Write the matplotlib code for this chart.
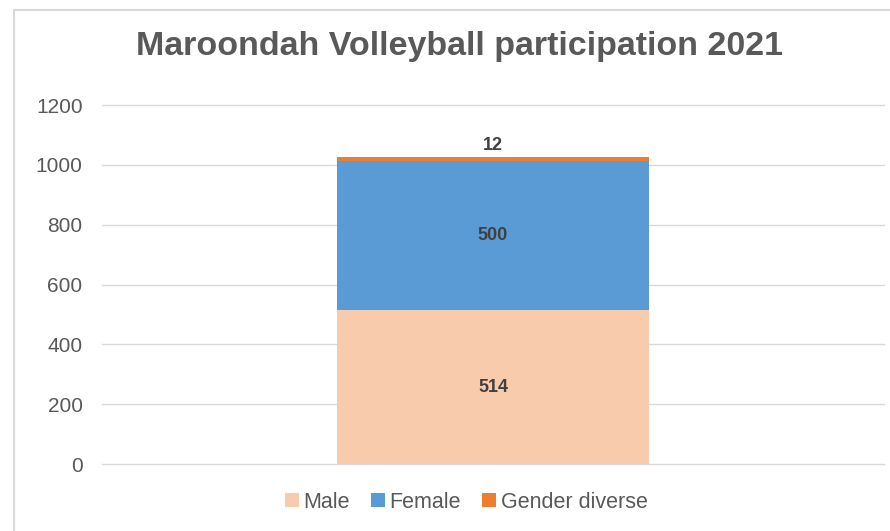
import matplotlib.pyplot as plt
from matplotlib.lines import Line2D

plt.rcParams['font.family'] = ['Liberation Sans', 'DejaVu Sans']

category = ["2021"]
series_names = ["Male", "Female", "Gender diverse"]
male = [514]
female = [500]
gender_diverse = [12]
colors = ["#F8CBAD", "#5B9BD5", "#ED7D31"]

fig = plt.figure(figsize=(8.9, 5.31), dpi=100)
ax = fig.add_axes([102 / 890, 1 - 464 / 531, 782 / 890, 359 / 531])

x = [0]
b1 = ax.bar(x, male, width=0.4, color=colors[0], label=series_names[0], zorder=3)
b2 = ax.bar(x, female, width=0.4, bottom=male, color=colors[1], label=series_names[1], zorder=3)
bottom3 = [m + f for m, f in zip(male, female)]
b3 = ax.bar(x, gender_diverse, width=0.4, bottom=bottom3, color=colors[2], label=series_names[2], zorder=3)

ax.bar_label(b1, label_type="center", fontsize=13, fontweight="bold", color="#404040")
ax.bar_label(b2, label_type="center", fontsize=13, fontweight="bold", color="#404040")
ax.bar_label(b3, labels=[str(v) for v in gender_diverse], padding=2,
             fontsize=13, fontweight="bold", color="#404040")

ax.set_xlim(-0.5, 0.5)
ax.set_ylim(0, 1200)
ax.set_yticks(range(0, 1201, 200))
ax.set_xticks([])
for yv in range(0, 1201, 200):
    ax.axhline(yv, color="#D9D9D9", linewidth=1, zorder=0, clip_on=False)
for s in ax.spines.values():
    s.set_visible(False)
ax.tick_params(axis="y", length=0, pad=14, labelsize=15, labelcolor="#595959")

fig.text(460 / 890, 1 - 47 / 531, "Maroondah Volleyball participation 2021",
         ha="center", va="center", fontsize=24.5, fontweight="bold", color="#595959")

fig.legend(handles=[b1, b2, b3], labels=series_names, loc="center",
           bbox_to_anchor=(466 / 890, 1 - 502 / 531), ncol=3, frameon=False,
           fontsize=15.5, labelcolor="#595959", handlelength=0.65, handleheight=0.65,
           handletextpad=0.2, columnspacing=1.0)

# chart border (top and left edges visible)
fig.add_artist(Line2D([14 / 890, 1], [1 - 9.5 / 531, 1 - 9.5 / 531], color="#D9D9D9", linewidth=1.5))
fig.add_artist(Line2D([14 / 890, 14 / 890], [0, 1 - 9.5 / 531], color="#D9D9D9", linewidth=1.5))

fig.savefig("out.png", dpi=100)
